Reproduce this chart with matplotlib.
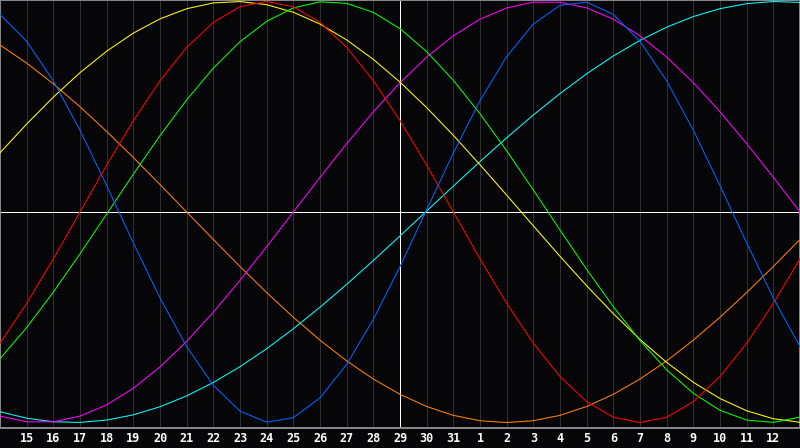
import numpy as np
import matplotlib
matplotlib.use('Agg')
import matplotlib.pyplot as plt

# day labels under the grid (t = 1 .. 29), t = 0 is the 14th
days = [15, 16, 17, 18, 19, 20, 21, 22, 23, 24, 25, 26, 27, 28, 29, 30, 31,
        1, 2, 3, 4, 5, 6, 7, 8, 9, 10, 11, 12]

# curve values, one per day (t = 0 .. 30)
blue = [0.9385, 0.8107, 0.6226, 0.3884, 0.1253, -0.1470, -0.4083, -0.6395,
        -0.8234, -0.9459, -0.9984, -0.9768, -0.8828, -0.7234, -0.5103, -0.2593,
        0.0110, 0.2803, 0.5288, 0.7385, 0.8929, 0.9813, 0.9969, 0.9385,
        0.8106, 0.6225, 0.3883, 0.1252, -0.1471, -0.4085, -0.6396]
red = [-0.6235, -0.4339, -0.2225, 0.0, 0.2225, 0.4339, 0.6235, 0.7818,
       0.9010, 0.9749, 1.0, 0.9749, 0.9010, 0.7818, 0.6235, 0.4339,
       0.2225, 0.0, -0.2225, -0.4339, -0.6235, -0.7818, -0.9010, -0.9749,
       -1.0, -0.9749, -0.9010, -0.7818, -0.6235, -0.4339, -0.2225]
green = [-0.6970, -0.5486, -0.3804, -0.1985, -0.0096, 0.1799, 0.3628, 0.5326,
         0.6833, 0.8090, 0.9056, 0.9695, 0.9984, 0.9911, 0.9481, 0.8708,
         0.7619, 0.6255, 0.4667, 0.2908, 0.1045, -0.0856, -0.2726, -0.4498,
         -0.6107, -0.7497, -0.8612, -0.9418, -0.9884, -0.9993, -0.9740]
yellow = [0.2811, 0.4179, 0.5457, 0.6618, 0.7640, 0.8498, 0.9175, 0.9656,
          0.9932, 0.9996, 0.9847, 0.9488, 0.8927, 0.8175, 0.7249, 0.6169,
          0.4958, 0.3641, 0.2246, 0.0802, -0.0657, -0.2103, -0.3504, -0.4829,
          -0.6055, -0.7145, -0.8090, -0.8860, -0.9441, -0.9820, -0.9990]
orange = [0.7934, 0.7071, 0.6088, 0.5, 0.3827, 0.2588, 0.1305, 0.0,
          -0.1305, -0.2588, -0.3827, -0.5, -0.6088, -0.7071, -0.7934, -0.8660,
          -0.9239, -0.9659, -0.9914, -1.0, -0.9914, -0.9659, -0.9239, -0.8660,
          -0.7934, -0.7071, -0.6088, -0.5, -0.3827, -0.2588, -0.1305]
magenta = [-0.9694, -0.9966, -0.9966, -0.9694, -0.9158, -0.8372, -0.7357, -0.6142,
           -0.4759, -0.3247, -0.1646, 0.0, 0.1646, 0.3247, 0.4759, 0.6142,
           0.7357, 0.8372, 0.9158, 0.9694, 0.9966, 0.9966, 0.9694, 0.9158,
           0.8372, 0.7357, 0.6142, 0.4759, 0.3247, 0.1646, 0.0]
cyan = [-0.9488, -0.9795, -0.9965, -0.9994, -0.9883, -0.9634, -0.9249, -0.8734,
        -0.8097, -0.7346, -0.6494, -0.5547, -0.4524, -0.3438, -0.2303, -0.1135,
        0.0047, 0.1229, 0.2395, 0.3527, 0.4608, 0.5626, 0.6565, 0.7412,
        0.8153, 0.8780, 0.9285, 0.9659, 0.9897, 0.9997, 0.9956]

t = np.arange(len(blue))
ticks = np.arange(1, len(days) + 1)

bg = '#060608'
px = 0.72  # one pixel in points at 100 dpi
fig = plt.figure(figsize=(8, 4.48), dpi=100, facecolor=bg)
ax = fig.add_axes([0, 20 / 448, 1, 428 / 448])
ax.set_facecolor(bg)

# vertical day grid, white centre lines
for k in ticks:
    if k == 15:
        continue
    ax.axvline(k, color='#303030', lw=px, zorder=1)
ax.axvline(15, color='white', lw=px, zorder=2)
ax.axhline(0, color='white', lw=px, zorder=2)

series = [(orange, '#ff8000'), (cyan, '#00ffff'), (magenta, '#ff00ff'),
          (yellow, '#ffff00'), (green, '#00ff00'), (red, '#ff0000'),
          (blue, '#0064ff')]
for vals, col in series:
    ax.plot(t, vals, color=col, lw=0.75, zorder=3)

ax.set_xlim(0, 30)
ax.set_ylim(-1.026, 1.007)
ax.set_yticks([])
ax.set_xticks(ticks)
ax.set_xticklabels([str(d) for d in days], color='white', fontsize=8.5,
                   fontweight='bold', family='DejaVu Sans Mono')
ax.tick_params(axis='x', length=0, pad=3)
for s in ax.spines.values():
    s.set_color('#8a8a8a')
    s.set_linewidth(1.4)

plt.savefig('out.png', dpi=100, facecolor=bg)
